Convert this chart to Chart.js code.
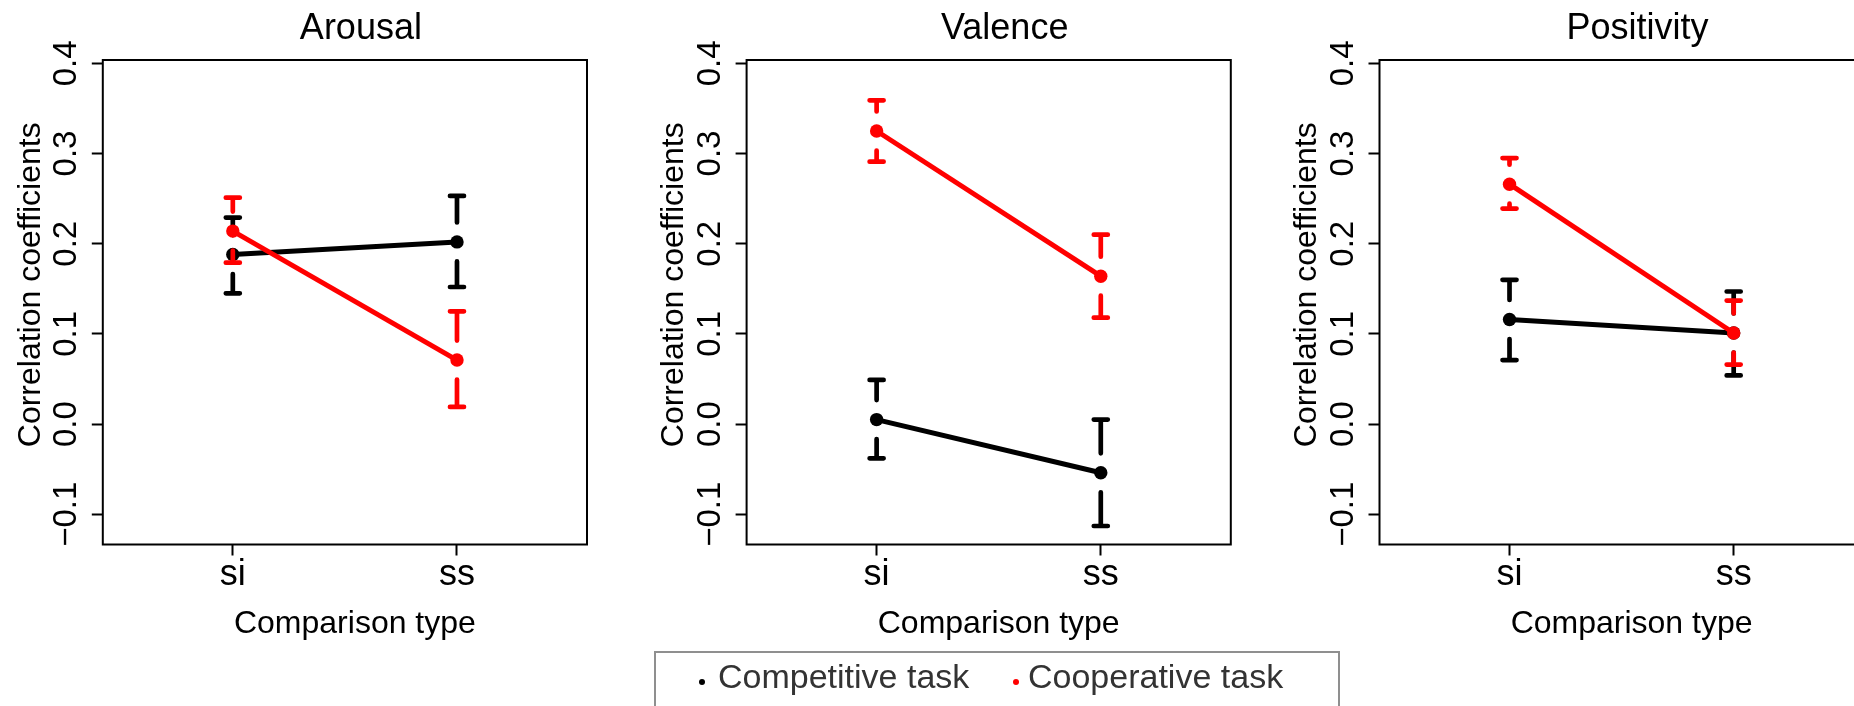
<!DOCTYPE html>
<html>
<head>
<meta charset="utf-8">
<script src="https://cdn.jsdelivr.net/npm/chart.js@4.4.1/dist/chart.umd.min.js"></script>
<style>
	html, body { margin: 0; padding: 0; background: #fff; overflow: hidden; }
	#wrap { position: relative; width: 1854px; height: 706px; overflow: hidden; }
	#wrap canvas { position: absolute; top: 0; }
	.legend-box { position: absolute; left: 654px; top: 651px; width: 686px; height: 80px; box-sizing: border-box; border: 2px solid #8f8f8f; }
	.legend-dot { position: absolute; width: 6px; height: 6px; border-radius: 50%; }
	.legend-text { position: absolute; font: 34px/34px "Liberation Sans", Arial, sans-serif; color: #333; white-space: nowrap; }
</style>
</head>
<body>
<div id="wrap">
	<canvas id="arousal"></canvas>
	<canvas id="valence"></canvas>
	<canvas id="positivity"></canvas>
	<div class="legend-box"></div>
	<span class="legend-dot" style="left:699px;top:679px;background:#000"></span>
	<span class="legend-text" style="left:718px;top:659px">Competitive task</span>
	<span class="legend-dot" style="left:1013px;top:679px;background:#ff0000"></span>
	<span class="legend-text" style="left:1028px;top:659px">Cooperative task</span>
</div>
<script>
const categories = ['si', 'ss']
const yTicks = [-0.1, 0, 0.1, 0.2, 0.3, 0.4]
const yTickLabels = ['\u22120.1', '0.0', '0.1', '0.2', '0.3', '0.4']
const panelTitles = ['Arousal', 'Valence', 'Positivity']
const seriesNames = ['Competitive task', 'Cooperative task']

// Arousal
const arousalCompetitive = [0.188, 0.202]
const arousalCompetitiveLow = [0.145, 0.152]
const arousalCompetitiveHigh = [0.229, 0.253]
const arousalCooperative = [0.214, 0.071]
const arousalCooperativeLow = [0.179, 0.019]
const arousalCooperativeHigh = [0.251, 0.125]

// Valence
const valenceCompetitive = [0.005, -0.054]
const valenceCompetitiveLow = [-0.038, -0.113]
const valenceCompetitiveHigh = [0.049, 0.005]
const valenceCooperative = [0.325, 0.164]
const valenceCooperativeLow = [0.291, 0.118]
const valenceCooperativeHigh = [0.359, 0.21]

// Positivity
const positivityCompetitive = [0.116, 0.101]
const positivityCompetitiveLow = [0.071, 0.054]
const positivityCompetitiveHigh = [0.16, 0.147]
const positivityCooperative = [0.266, 0.101]
const positivityCooperativeLow = [0.239, 0.066]
const positivityCooperativeHigh = [0.295, 0.137]

const FONT = '"Liberation Sans", Arial, sans-serif'
Chart.defaults.font.family = FONT
Chart.defaults.color = '#000'

const CANVAS_W = 620
const CANVAS_H = 706
const BOX_W = 484.2
const BOX_TOP = 60
const BOX_BOTTOM = 544.5
const X_AXIS_H = 60
const GAP = 19.5
const CAP = 7

const toPoints = values => values.map((v, i) => ({ x: i + 1, y: v }))

// error bars with a gap around the mean, like plotCI
const errorBars = {
	id: 'errorBars',
	afterDatasetDraw(chart, args) {
		const ds = chart.data.datasets[args.index]
		const yScale = chart.scales.y
		const ctx = chart.ctx
		ctx.save()
		ctx.strokeStyle = ds.borderColor
		ctx.lineWidth = 4.7
		ctx.lineCap = 'round'
		args.meta.data.forEach((pt, i) => {
			const hi = yScale.getPixelForValue(ds.upper[i])
			const lo = yScale.getPixelForValue(ds.lower[i])
			ctx.beginPath()
			if (pt.y - hi > GAP) {
				ctx.moveTo(pt.x, hi)
				ctx.lineTo(pt.x, pt.y - GAP)
			}
			if (lo - pt.y > GAP) {
				ctx.moveTo(pt.x, pt.y + GAP)
				ctx.lineTo(pt.x, lo)
			}
			ctx.moveTo(pt.x - CAP, hi)
			ctx.lineTo(pt.x + CAP, hi)
			ctx.moveTo(pt.x - CAP, lo)
			ctx.lineTo(pt.x + CAP, lo)
			ctx.stroke()
		})
		ctx.restore()
	},
}

// box round the plot region and the panel texts
const panelText = {
	id: 'panelText',
	afterDraw(chart, args, opts) {
		const { ctx, chartArea } = chart
		const cx = (chartArea.left + chartArea.right) / 2
		const cy = (chartArea.top + chartArea.bottom) / 2
		ctx.save()
		ctx.strokeStyle = '#000'
		ctx.lineWidth = 2
		ctx.strokeRect(chartArea.left, chartArea.top, chartArea.right - chartArea.left, chartArea.bottom - chartArea.top)
		ctx.fillStyle = '#000'
		ctx.textAlign = 'center'
		ctx.textBaseline = 'alphabetic'
		ctx.font = '36px ' + FONT
		ctx.fillText(opts.title, cx + 16, 39)
		ctx.font = '32px ' + FONT
		ctx.fillText('Comparison type', cx + 10, 632.5)
		ctx.translate(chartArea.left - 63.3, cy - 17.5)
		ctx.rotate(-Math.PI / 2)
		ctx.fillText('Correlation coefficients', 0, 0)
		ctx.restore()
	},
}

function makePanel(id, boxLeft, title, comp, compLow, compHigh, coop, coopLow, coopHigh) {
	const canvas = document.getElementById(id)
	const left = Math.floor(boxLeft - 102.8)
	const yAxisW = boxLeft - left
	canvas.width = CANVAS_W
	canvas.height = CANVAS_H
	canvas.style.left = left + 'px'

	return new Chart(canvas, {
		type: 'line',
		data: {
			datasets: [
				{
					label: seriesNames[0],
					data: toPoints(comp),
					lower: compLow,
					upper: compHigh,
					borderColor: '#000000',
					backgroundColor: '#000000',
					borderWidth: 5,
					pointRadius: 6.7,
					pointBorderWidth: 0,
					order: 1,
				},
				{
					label: seriesNames[1],
					data: toPoints(coop),
					lower: coopLow,
					upper: coopHigh,
					borderColor: '#ff0000',
					backgroundColor: '#ff0000',
					borderWidth: 5,
					pointRadius: 6.7,
					pointBorderWidth: 0,
					order: 0,
				},
			],
		},
		options: {
			responsive: false,
			animation: false,
			devicePixelRatio: 1,
			layout: {
				padding: {
					left: 0,
					top: BOX_TOP,
					right: CANVAS_W - yAxisW - BOX_W,
					bottom: CANVAS_H - BOX_BOTTOM - X_AXIS_H,
				},
			},
			plugins: {
				legend: { display: false },
				tooltip: { enabled: false },
				panelText: { title: title },
			},
			scales: {
				x: {
					type: 'linear',
					min: 0.42,
					max: 2.58,
					afterBuildTicks: scale => {
						scale.ticks = categories.map((c, i) => ({ value: i + 1 }))
					},
					afterFit: scale => {
						scale.height = X_AXIS_H
					},
					ticks: {
						callback: (v, i) => categories[i],
						font: { size: 36 },
						padding: -2,
						maxRotation: 0,
					},
					grid: { drawOnChartArea: false, tickLength: 11, tickWidth: 2, tickColor: '#000' },
					border: { display: false },
				},
				y: {
					type: 'linear',
					min: -0.1335,
					max: 0.4037,
					afterBuildTicks: scale => {
						scale.ticks = yTicks.map(v => ({ value: v }))
					},
					afterFit: scale => {
						scale.width = yAxisW
					},
					ticks: {
						callback: (v, i) => yTickLabels[i],
						font: { size: 33 },
						minRotation: 90,
						maxRotation: 90,
						crossAlign: 'center',
						padding: -8,
					},
					grid: { drawOnChartArea: false, tickLength: 11, tickWidth: 2, tickColor: '#000' },
					border: { display: false },
				},
			},
		},
		plugins: [errorBars, panelText],
	})
}

makePanel('arousal', 102.8, panelTitles[0],
	arousalCompetitive, arousalCompetitiveLow, arousalCompetitiveHigh,
	arousalCooperative, arousalCooperativeLow, arousalCooperativeHigh)
makePanel('valence', 746.6, panelTitles[1],
	valenceCompetitive, valenceCompetitiveLow, valenceCompetitiveHigh,
	valenceCooperative, valenceCooperativeLow, valenceCooperativeHigh)
makePanel('positivity', 1379.5, panelTitles[2],
	positivityCompetitive, positivityCompetitiveLow, positivityCompetitiveHigh,
	positivityCooperative, positivityCooperativeLow, positivityCooperativeHigh)
</script>
</body>
</html>
